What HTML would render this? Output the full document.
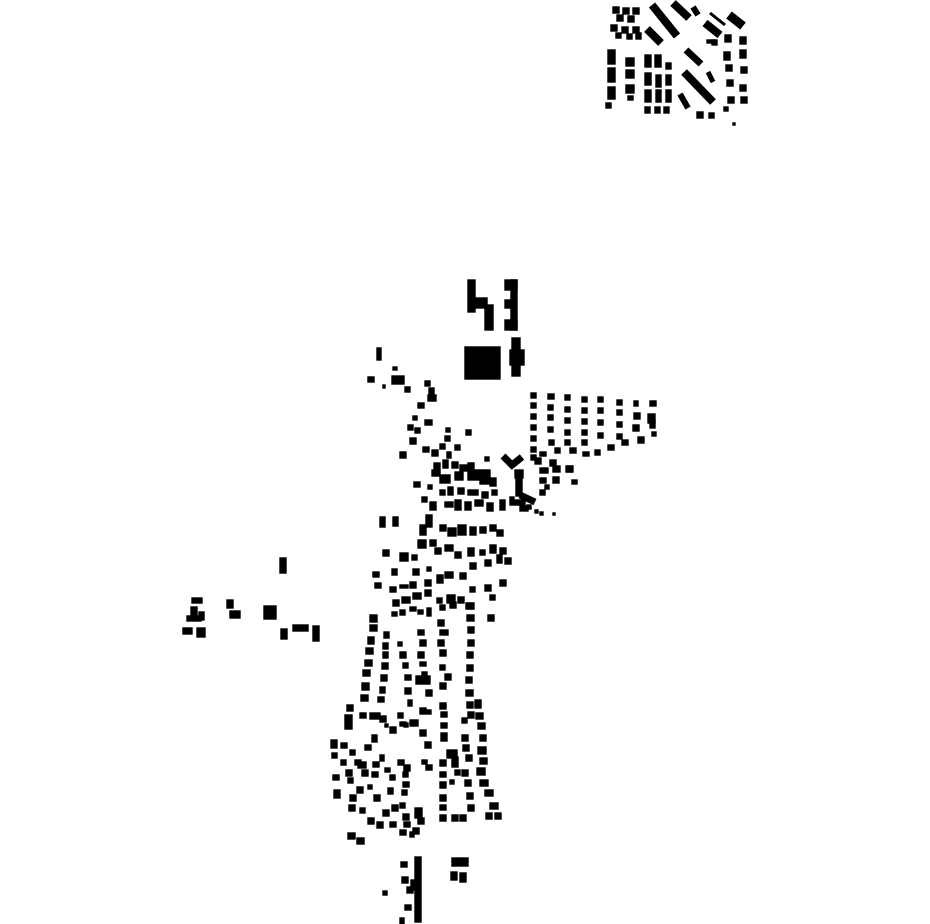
<!DOCTYPE html>
<html><head><meta charset="utf-8"><style>html,body{margin:0;padding:0;background:#fff;width:930px;height:924px;overflow:hidden}</style></head>
<body>
<svg id="s" width="930" height="924" viewBox="0 0 930 924" xmlns="http://www.w3.org/2000/svg">
<g stroke="#000" stroke-linecap="butt" fill="none">
<line x1="652" y1="5" x2="677" y2="36" stroke-width="8"/>
<line x1="647" y1="29" x2="661" y2="43" stroke-width="8"/>
<line x1="673" y1="3" x2="689" y2="18" stroke-width="8"/>
<line x1="693" y1="7" x2="698" y2="15" stroke-width="6"/>
<line x1="710" y1="13" x2="725" y2="25" stroke-width="3"/>
<line x1="705" y1="23" x2="720" y2="35" stroke-width="8"/>
<line x1="729" y1="15" x2="743" y2="26" stroke-width="9"/>
<line x1="684" y1="72" x2="713" y2="102" stroke-width="8"/>
<line x1="686" y1="50" x2="701" y2="64" stroke-width="7"/>
<line x1="680" y1="94" x2="688" y2="108" stroke-width="6"/>
<line x1="708" y1="72" x2="713" y2="82" stroke-width="5"/>
<polyline points="503,456 512,465 522,457" stroke-width="7"/>
<line x1="520" y1="495" x2="535" y2="502" stroke-width="7"/>
</g>
<g id="g" fill="#000" stroke="#000" stroke-width="1.4"></g>
</svg>
<script>
var R=[
[613,7,6,6],[623,8,6,6],[633,8,6,6],[617,15,6,6],[628,16,6,6],[611,25,6,6],[622,27,6,6],[633,27,6,6],[616,33,5,5],[627,34,5,5],[636,33,5,6],
[608,50,7,14],[608,68,7,14],[608,87,7,12],[606,103,5,5],[626,58,8,8],[626,70,8,8],[626,85,8,8],[628,96,5,4],
[645,55,6,12],[655,55,6,12],[666,63,5,6],[645,73,6,12],[656,75,5,12],[666,75,5,10],[645,90,6,12],[656,90,5,12],[666,90,5,12],[645,107,5,6],[655,107,5,6],[664,107,5,6],
[725,35,6,7],[740,37,6,7],[724,52,6,8],[740,50,6,8],[726,65,6,6],[741,67,6,6],[727,80,6,6],[740,85,6,6],[728,97,6,6],[741,97,6,6],[724,107,4,4],[733,123,2,2],[697,112,6,6],[709,113,5,5],[712,40,5,5],[707,40,8,3],
[468,280,7,32],[475,298,12,10],[485,305,8,25],[505,280,12,10],[511,280,6,50],[505,320,12,10],[505,300,10,8],
[465,347,35,32],[512,338,8,38],[510,350,14,15],
[377,348,4,12],[368,377,6,5],[392,376,12,8],[393,367,4,3],[405,387,5,5],[383,385,2,3],[425,381,5,5],[429,388,5,6],[428,395,8,6],[418,403,6,5],[413,416,4,4],[425,420,7,5],[415,428,5,5],[466,430,5,5],[446,428,4,4],[445,436,5,5],[408,425,5,5],[410,438,6,6],[400,452,6,6],
[531,393,5,5],[531,403,5,5],[531,414,5,5],[531,425,5,5],[531,436,5,5],[531,447,5,5],[531,455,5,5],
[548,394,6,5],[548,405,5,5],[548,415,5,5],[548,427,5,5],[549,440,5,5],
[565,395,5,5],[565,407,5,5],[565,418,5,5],[565,430,5,5],[565,440,5,5],
[582,397,5,5],[582,408,5,5],[582,419,5,5],[582,430,5,5],[582,440,5,5],
[598,397,5,5],[598,408,5,5],[598,420,5,5],[598,433,5,5],
[617,400,5,5],[617,410,5,5],[617,422,5,5],[617,434,5,5],
[634,401,4,5],[634,413,6,6],[633,425,6,6],[650,401,6,5],[648,414,7,9],[650,420,5,8],
[540,452,6,4],[555,448,5,5],[570,448,6,5],[583,452,6,4],[595,450,5,5],[608,445,6,5],[622,440,6,5],[638,437,6,6],[652,432,4,4],[535,458,6,6],[550,460,6,6],[567,466,6,6],[572,480,5,4],
[423,447,6,5],[432,450,6,6],[440,444,5,5],[447,452,4,6],[455,445,5,5],[434,463,6,6],[443,460,5,8],[452,462,6,6],[460,465,8,6],[468,463,6,6],[485,457,4,4],
[432,470,8,6],[440,475,10,8],[455,472,8,8],[468,470,12,10],[480,470,10,14],[490,478,6,8],[414,482,6,5],[428,485,4,4],
[440,490,5,5],[448,487,5,8],[458,488,6,6],[468,490,10,5],[482,492,6,6],[492,490,5,5],[422,497,5,5],[430,502,6,8],
[445,502,8,5],[455,500,6,10],[465,502,6,8],[475,500,8,6],[487,503,6,8],[500,500,5,10],[510,497,4,8],[515,500,10,5],[520,506,8,5],[527,505,4,4],[535,510,3,3],[540,512,3,3],[553,513,2,2],
[426,515,6,12],[420,525,6,10],[440,525,6,6],[448,528,8,8],[458,525,8,10],[470,527,6,8],[480,527,6,6],[490,525,6,6],[497,530,6,6],[418,540,8,8],[430,540,6,6],
[435,548,6,6],[445,545,8,6],[455,552,6,6],[468,548,6,8],[480,550,5,5],[490,545,6,8],[500,548,6,6],[412,555,5,5],
[515,470,8,8],[516,478,6,18],[540,468,8,5],[553,466,7,6],[566,466,6,6],[540,478,6,5],[553,477,6,6],[540,490,5,5],[545,485,4,4],
[380,517,5,10],[393,517,5,9],[383,550,6,6],[400,553,8,8],[373,572,6,5],[392,569,5,6],[413,569,6,6],[427,567,4,4],[375,583,6,5],[390,587,6,5],[400,585,8,3],[410,582,6,6],[425,580,6,6],[437,575,6,8],[445,572,8,6],[460,573,6,6],[470,563,6,6],[485,560,6,6],[497,555,5,8],[505,558,6,6],[500,580,6,6],[485,585,6,6],
[393,600,6,6],[402,597,8,6],[413,593,8,6],[425,590,6,6],[437,598,5,5],[447,595,8,8],[458,597,6,6],[470,587,5,5],[490,595,5,5],[392,612,5,4],[400,610,5,5],[410,607,6,4],[418,610,5,4],[427,608,4,8],[440,605,5,5],[450,602,6,6],[468,603,6,6],[488,615,6,6],
[370,615,7,7],[370,625,7,6],[368,637,6,7],[366,648,7,6],[365,660,7,6],[363,670,7,6],[362,683,7,7],[361,695,7,6],[347,705,6,6],[345,715,7,6],
[384,632,5,6],[383,643,5,6],[383,652,5,6],[382,663,6,6],[381,675,6,6],[380,687,5,6],[378,697,6,5],
[398,642,4,4],[400,652,6,6],[403,663,5,5],[405,675,6,5],[405,688,6,6],[408,700,4,6],
[418,630,6,5],[420,640,6,6],[418,652,6,6],[420,662,6,4],[422,672,5,6],[416,676,14,8],[426,690,6,6],
[438,620,6,6],[440,630,8,5],[438,640,6,6],[440,650,6,6],[440,665,5,5],[445,674,6,6],[440,683,6,6],
[466,603,7,6],[467,615,7,6],[468,627,6,6],[468,640,6,6],[467,652,6,6],[467,665,6,6],[466,677,6,6],[466,690,7,6],[467,702,6,6],[468,712,6,6],
[360,713,6,5],[370,713,10,6],[380,716,6,6],[385,724,3,3],[398,713,5,5],[400,722,6,4],[410,720,8,6],[345,722,7,7],[372,735,5,7],[390,727,6,6],[404,723,4,4],[420,708,6,6],[427,710,4,4],[420,730,6,6],[425,742,6,6],[422,760,5,4],[426,765,6,5],
[462,735,6,6],[463,745,6,6],[466,755,6,6],[462,770,6,6],[465,780,6,6],[467,793,6,6],[468,805,6,6],
[475,700,6,8],[476,713,7,6],[478,723,7,6],[480,735,6,6],[478,747,8,7],[480,758,7,6],[477,768,8,7],[480,780,8,6],[485,790,8,6],[490,803,8,6],[486,813,6,6],[495,813,6,6],
[440,703,6,6],[441,712,6,5],[441,723,6,5],[441,733,6,8],[440,760,6,6],[440,772,6,5],[440,782,6,6],[440,795,6,6],[440,805,6,5],[440,815,6,6],[447,750,10,8],[452,757,6,10],[455,770,5,5],[462,718,5,5],[450,780,4,4],[452,815,6,6],[460,815,6,6],
[331,740,6,8],[341,743,6,5],[332,753,5,5],[350,750,5,5],[365,745,6,5],[355,760,6,5],[341,760,5,5],[358,762,8,6],[373,762,6,5],[380,755,4,6],[346,770,6,6],[362,770,6,6],[372,772,6,5],[385,768,5,4],[390,775,5,5],[333,775,6,5],[348,778,5,5],[357,787,6,6],[368,785,4,4],[334,790,6,8],[350,795,6,6],[374,795,6,6],[388,788,5,6],[392,805,6,6],[383,810,6,6],[349,805,6,6],[360,808,5,5],[368,818,6,6],[377,822,6,6],[390,822,6,5],[400,803,5,5],[403,814,6,6],[404,822,6,5],[400,830,6,5],[410,832,4,5],[415,808,7,10],[418,818,6,6],[413,828,6,6],[402,790,5,5],[403,782,6,5],[403,772,5,5],[348,833,7,6],[357,838,7,6],[398,760,6,5],[404,765,6,6],
[415,857,6,65],[411,880,6,10],[401,862,6,5],[402,877,6,6],[407,887,6,6],[405,905,6,5],[400,918,4,6],[383,891,4,4],[452,858,16,8],[451,872,6,8],[460,873,6,9],
[280,558,6,15],[192,598,10,5],[191,607,6,8],[187,616,14,5],[199,612,5,8],[183,628,9,6],[197,628,8,9],[227,600,6,8],[230,611,10,7],[264,606,12,13],[281,629,6,10],[293,625,15,6],[313,626,6,15]
];
var g=document.getElementById('g'),h='';
for(var i=0;i<R.length;i++){var r=R[i];h+='<rect x="'+r[0]+'" y="'+r[1]+'" width="'+r[2]+'" height="'+r[3]+'"/>';}
g.innerHTML=h;
</script>
</body></html>
